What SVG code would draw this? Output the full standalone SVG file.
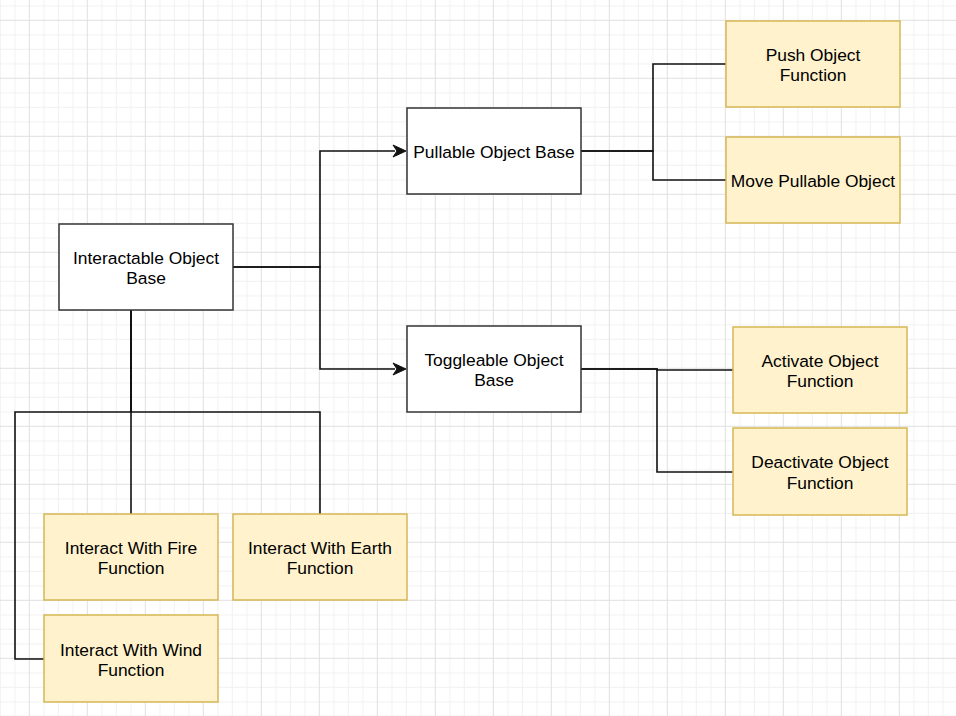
<svg xmlns="http://www.w3.org/2000/svg" width="956" height="716" viewBox="0 0 956 716">
<defs>
<pattern id="grid" x="28.8" y="19.8" width="58" height="58" patternUnits="userSpaceOnUse">
<path d="M15 0V58M29.5 0V58M44 0V58M0 15H58M0 29.5H58M0 44H58" stroke="#f0f0f0" stroke-width="1" fill="none"/>
<path d="M0.5 0V58M0 0.5H58" stroke="#e0e0e0" stroke-width="1" fill="none"/>
</pattern>
<style>
.base rect{fill:#ffffff;stroke:#333333;stroke-width:1.5}
.fn rect{fill:#fff2cc;stroke:#d6b656;stroke-width:1.5}
text{font-family:"Liberation Sans",Arial,Helvetica,sans-serif;font-size:17.4px;fill:#000;text-anchor:middle}
.edges path{fill:none;stroke:#111111;stroke-width:1.6}
.edges path.head{fill:#111111;stroke:#111111;stroke-width:1;stroke-linejoin:miter}
</style>
</defs>
<rect width="956" height="716" fill="#ffffff"/>
<rect width="956" height="716" fill="url(#grid)"/>

<g class="edges" id="connectors">
<path d="M233 267H320V151H395"/>
<path class="head" d="M406 151L393 145L397 151L393 157Z"/>
<path d="M233 267H320V369H395"/>
<path class="head" d="M406 369L393 363L397 369L393 375Z"/>
<path d="M581 151H653V64H726"/>
<path d="M581 151H653V180H726"/>
<path d="M581 369H657V370H733"/>
<path d="M581 369H657V472H733"/>
<path d="M131 310V514"/>
<path d="M131 310V412H320V514"/>
<path d="M131 310V412H15V659H44"/>
</g>

<g id="interactable" class="base">
<rect x="59" y="224" width="174" height="86"/>
<text x="146" y="264">Interactable Object</text>
<text x="146" y="284">Base</text>
</g>
<g id="pullable" class="base">
<rect x="407" y="108" width="174" height="86"/>
<text x="494" y="157.5">Pullable Object Base</text>
</g>
<g id="toggleable" class="base">
<rect x="407" y="326" width="174" height="86"/>
<text x="494" y="366">Toggleable Object</text>
<text x="494" y="386">Base</text>
</g>
<g id="push" class="fn">
<rect x="726" y="21" width="174" height="86"/>
<text x="813" y="61">Push Object</text>
<text x="813" y="81">Function</text>
</g>
<g id="move" class="fn">
<rect x="726" y="137" width="174" height="86"/>
<text x="813" y="187">Move Pullable Object</text>
</g>
<g id="activate" class="fn">
<rect x="733" y="327" width="174" height="86"/>
<text x="820" y="367">Activate Object</text>
<text x="820" y="387">Function</text>
</g>
<g id="deactivate" class="fn">
<rect x="733" y="428" width="174" height="87"/>
<text x="820" y="468">Deactivate Object</text>
<text x="820" y="489">Function</text>
</g>
<g id="fire" class="fn">
<rect x="44" y="514" width="174" height="86"/>
<text x="131" y="554">Interact With Fire</text>
<text x="131" y="574">Function</text>
</g>
<g id="earth" class="fn">
<rect x="233" y="514" width="174" height="86"/>
<text x="320" y="554">Interact With Earth</text>
<text x="320" y="574">Function</text>
</g>
<g id="wind" class="fn">
<rect x="44" y="615" width="174" height="87"/>
<text x="131" y="656">Interact With Wind</text>
<text x="131" y="676">Function</text>
</g>
</svg>
